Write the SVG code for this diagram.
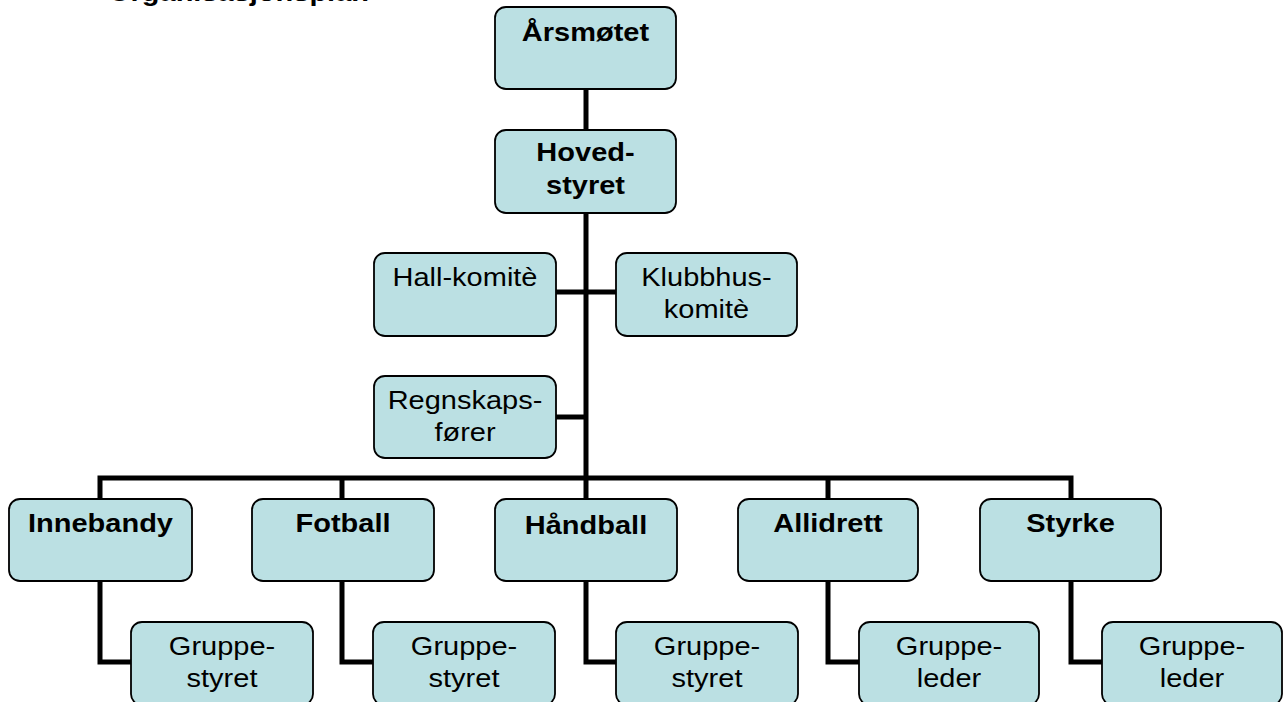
<svg xmlns="http://www.w3.org/2000/svg" width="1286" height="702" viewBox="0 0 1286 702">
  <style>
    .box { fill: #BBE0E3; stroke: #000; stroke-width: 1.8; }
    .t { font-family: "Liberation Sans", Arial, sans-serif; font-size: 29px; fill: #000; text-anchor: middle; }
    .b { font-weight: bold; }
    .conn { fill: none; stroke: #000; stroke-width: 5; stroke-linejoin: miter; }
  </style>
  <rect width="1286" height="702" fill="#fff"/>
  <text class="t b" style="text-anchor:start" transform="translate(108,0.5) scale(1,0.9)">Organisasjonsplan</text>

  <g id="connectors">
    <path class="conn" d="M586,89 V130"/>
    <path class="conn" d="M586,213 V478"/>
    <path class="conn" d="M556,292 H616"/>
    <path class="conn" d="M556,417 H586"/>
    <path class="conn" d="M100,499 V478 H1071 V499"/>
    <path class="conn" d="M342,478 V499"/>
    <path class="conn" d="M586,478 V499"/>
    <path class="conn" d="M828,478 V499"/>
    <path class="conn" d="M100,581 V662 H131"/>
    <path class="conn" d="M342,581 V662 H373"/>
    <path class="conn" d="M586,581 V662 H616"/>
    <path class="conn" d="M828,581 V662 H859"/>
    <path class="conn" d="M1071,581 V662 H1102"/>
  </g>

  <g id="arsmotet">
    <rect class="box" x="495" y="7" width="181" height="82" rx="11"/>
    <text class="t b" transform="translate(585.5,41) scale(1,0.9)">Årsmøtet</text>
  </g>
  <g id="hovedstyret">
    <rect class="box" x="495" y="130" width="181" height="83" rx="11"/>
    <text class="t b" transform="translate(585.5,161) scale(1,0.9)"><tspan x="0" y="0">Hoved-</tspan><tspan x="0" y="37">styret</tspan></text>
  </g>
  <g id="hallkomite">
    <rect class="box" x="374" y="253" width="182" height="83" rx="11"/>
    <text class="t" transform="translate(465,286) scale(1,0.9)">Hall-komitè</text>
  </g>
  <g id="klubbhuskomite">
    <rect class="box" x="616" y="253" width="181" height="83" rx="11"/>
    <text class="t" transform="translate(706.5,286) scale(1,0.9)"><tspan x="0" y="0">Klubbhus-</tspan><tspan x="0" y="35.5">komitè</tspan></text>
  </g>
  <g id="regnskapsforer">
    <rect class="box" x="374" y="376" width="182" height="82" rx="11"/>
    <text class="t" transform="translate(465,409) scale(1,0.9)"><tspan x="0" y="0">Regnskaps-</tspan><tspan x="0" y="35.5">fører</tspan></text>
  </g>

  <g id="innebandy">
    <rect class="box" x="9" y="499" width="183" height="82" rx="11"/>
    <text class="t b" transform="translate(100.5,532) scale(1,0.9)">Innebandy</text>
  </g>
  <g id="fotball">
    <rect class="box" x="252" y="499" width="182" height="82" rx="11"/>
    <text class="t b" transform="translate(343,532) scale(1,0.9)">Fotball</text>
  </g>
  <g id="handball">
    <rect class="box" x="495" y="499" width="182" height="82" rx="11"/>
    <text class="t b" transform="translate(586,534) scale(1,0.9)">Håndball</text>
  </g>
  <g id="allidrett">
    <rect class="box" x="738" y="499" width="180" height="82" rx="11"/>
    <text class="t b" transform="translate(828,532) scale(1,0.9)">Allidrett</text>
  </g>
  <g id="styrke">
    <rect class="box" x="980" y="499" width="181" height="82" rx="11"/>
    <text class="t b" transform="translate(1070.5,532) scale(1,0.9)">Styrke</text>
  </g>

  <g id="gruppestyret1">
    <rect class="box" x="131" y="622" width="182" height="83" rx="11"/>
    <text class="t" transform="translate(222,655) scale(1,0.9)"><tspan x="0" y="0">Gruppe-</tspan><tspan x="0" y="35.5">styret</tspan></text>
  </g>
  <g id="gruppestyret2">
    <rect class="box" x="373" y="622" width="182" height="83" rx="11"/>
    <text class="t" transform="translate(464,655) scale(1,0.9)"><tspan x="0" y="0">Gruppe-</tspan><tspan x="0" y="35.5">styret</tspan></text>
  </g>
  <g id="gruppestyret3">
    <rect class="box" x="616" y="622" width="182" height="83" rx="11"/>
    <text class="t" transform="translate(707,655) scale(1,0.9)"><tspan x="0" y="0">Gruppe-</tspan><tspan x="0" y="35.5">styret</tspan></text>
  </g>
  <g id="gruppeleder1">
    <rect class="box" x="859" y="622" width="180" height="83" rx="11"/>
    <text class="t" transform="translate(949,655) scale(1,0.9)"><tspan x="0" y="0">Gruppe-</tspan><tspan x="0" y="35.5">leder</tspan></text>
  </g>
  <g id="gruppeleder2">
    <rect class="box" x="1102" y="622" width="180" height="83" rx="11"/>
    <text class="t" transform="translate(1192,655) scale(1,0.9)"><tspan x="0" y="0">Gruppe-</tspan><tspan x="0" y="35.5">leder</tspan></text>
  </g>
</svg>
